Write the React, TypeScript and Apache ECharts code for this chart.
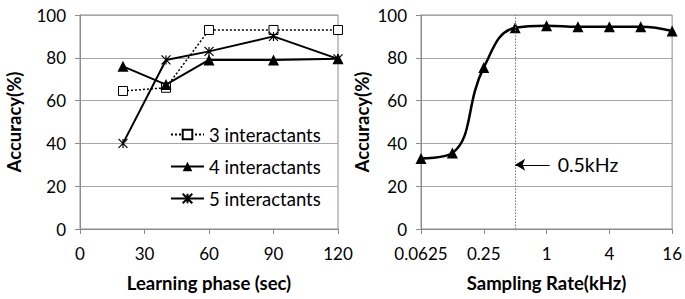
import React, { useEffect, useRef } from "react";
import * as echarts from "echarts";

const phaseX = [20, 40, 60, 90, 120];
const acc3 = [64.5, 66, 93, 93, 93];
const acc4 = [76, 67.5, 79, 79, 79.5];
const acc5 = [40, 79, 83, 90, 79.5];
const seriesNames = ["3 interactants", "4 interactants", "5 interactants"];

const rateX = [0.0625, 0.125, 0.25, 0.5, 1, 2, 4, 8, 16];
const rateAcc = [33, 35.5, 75.5, 94, 95, 94.5, 94.5, 94.5, 92.5];
const rateTickLabels = ["0.0625", "0.25", "1", "4", "16"];
const markerRate = 0.5;
const markerText = "0.5kHz";

const FONT = "Lato";
const GRID_C = "#a6a6a6";
const AXIS_C = "#8c8c8c";

const starPath = "path://M0,0L10,10M10,0L0,10M5,0L5,10";

export default function App() {
  const ref = useRef<HTMLDivElement>(null);
  useEffect(() => {
    const chart = echarts.init(ref.current!, null, { renderer: "svg" });
    const axisCommon = {
      axisLine: { show: true, lineStyle: { color: AXIS_C, width: 1 } },
      axisTick: { show: true, length: 5, lineStyle: { color: AXIS_C } },
      axisLabel: { color: "#000", fontFamily: FONT, fontSize: 17 },
      nameTextStyle: { color: "#000", fontFamily: FONT, fontSize: 18.5, fontWeight: "bold" },
      nameLocation: "middle",
    };
    const yAxisCommon = {
      ...axisCommon,
      type: "value",
      min: 0,
      max: 100,
      interval: 20,
      name: "Accuracy(%)",
      nameRotate: 90,
      splitLine: { show: true, lineStyle: { color: GRID_C } },
      axisLabel: { ...axisCommon.axisLabel, margin: 14 },
    };
    chart.setOption({
      animation: false,
      textStyle: { fontFamily: FONT },
      grid: [
        { left: 80, top: 15, width: 258, height: 214, show: true, borderColor: AXIS_C, borderWidth: 1 },
        { left: 421, top: 15, width: 255, height: 214, show: true, borderColor: AXIS_C, borderWidth: 1 },
      ],
      xAxis: [
        {
          ...axisCommon,
          gridIndex: 0,
          type: "value",
          min: 0,
          max: 120,
          interval: 30,
          name: "Learning phase (sec)",
          nameGap: 44,
          splitLine: { show: false },
          axisLabel: { ...axisCommon.axisLabel, margin: 16 },
        },
        {
          ...axisCommon,
          gridIndex: 1,
          type: "log",
          logBase: 4,
          min: rateX[0],
          max: rateX[rateX.length - 1],
          name: "Sampling Rate(kHz)",
          nameGap: 44,
          splitLine: { show: false },
          axisLabel: {
            ...axisCommon.axisLabel,
            margin: 16,
            formatter: (v: number) => rateTickLabels[Math.round(Math.log(v) / Math.log(4)) + 2] ?? "",
          },
        },
      ],
      yAxis: [
        { ...yAxisCommon, gridIndex: 0, nameGap: 57 },
        { ...yAxisCommon, gridIndex: 1, nameGap: 50 },
      ],
      legend: {
        data: seriesNames,
        orient: "vertical",
        left: 165,
        top: 120,
        itemWidth: 33,
        itemHeight: 12,
        itemGap: 13,
        textStyle: { fontFamily: FONT, fontSize: 18.5, color: "#000" },
      },
      series: [
        {
          name: seriesNames[0],
          type: "line",
          xAxisIndex: 0,
          yAxisIndex: 0,
          data: phaseX.map((x, i) => [x, acc3[i]]),
          symbol: "rect",
          symbolSize: 9,
          lineStyle: { color: "#000", width: 1.5, type: [2, 2] },
          itemStyle: { color: "#fff", borderColor: "#000", borderWidth: 1 },
          z: 3,
        },
        {
          name: seriesNames[1],
          type: "line",
          xAxisIndex: 0,
          yAxisIndex: 0,
          data: phaseX.map((x, i) => [x, acc4[i]]),
          symbol: "triangle",
          symbolSize: 11,
          lineStyle: { color: "#000", width: 2 },
          itemStyle: { color: "#000" },
          z: 4,
        },
        {
          name: seriesNames[2],
          type: "line",
          xAxisIndex: 0,
          yAxisIndex: 0,
          data: phaseX.map((x, i) => [x, acc5[i]]),
          symbol: starPath,
          symbolSize: 9,
          lineStyle: { color: "#000", width: 2 },
          itemStyle: { color: "none", borderColor: "#000", borderWidth: 1.2 },
          z: 5,
        },
        {
          name: "rate",
          type: "line",
          xAxisIndex: 1,
          yAxisIndex: 1,
          data: rateX.map((x, i) => [x, rateAcc[i]]),
          smooth: 0.45,
          symbol: "triangle",
          symbolSize: 11,
          lineStyle: { color: "#000", width: 2.5 },
          itemStyle: { color: "#000" },
          markLine: {
            silent: true,
            animation: false,
            symbol: ["none", "none"],
            label: { show: false },
            data: [
              {
                xAxis: markerRate,
                lineStyle: { color: "#777", type: [1.5, 1.5], width: 1 },
                label: { show: false },
              },
              [
                {
                  coord: [markerRate, 30],
                  symbol: "arrow",
                  symbolSize: [9, 10],
                  lineStyle: { color: "#000", type: "solid", width: 1.2 },
                  label: {
                    show: true,
                    position: "end",
                    formatter: markerText,
                    color: "#000",
                    fontFamily: FONT,
                    fontSize: 19.5,
                    distance: 8,
                  },
                },
                { coord: [1.07, 30], symbol: "none" },
              ],
            ],
          },
        },
      ],
    });
    return () => chart.dispose();
  }, []);
  return (
    <div
      ref={ref}
      style={{ position: "fixed", left: 0, top: 0, width: 685, height: 299, background: "#fff" }}
    />
  );
}
